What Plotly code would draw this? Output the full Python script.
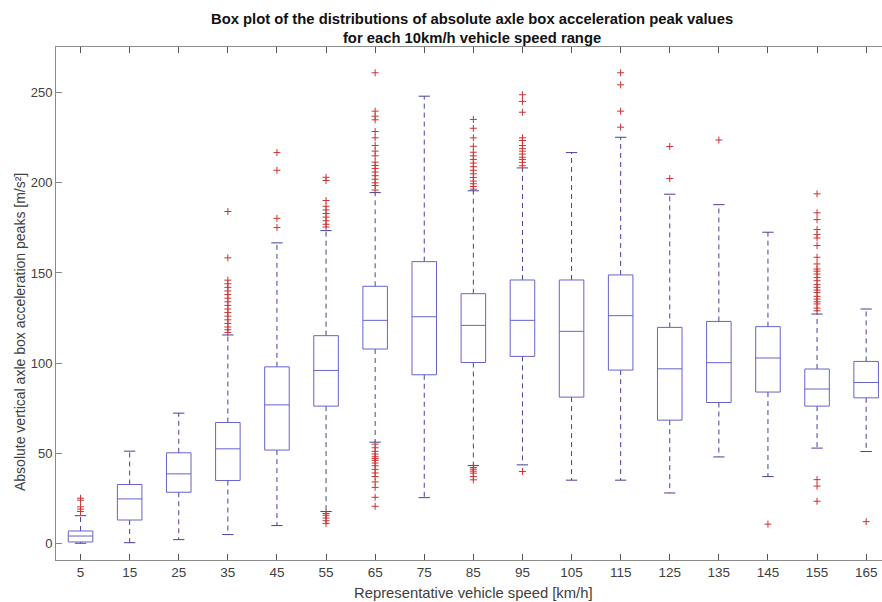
import plotly.graph_objects as go

# ---- data ----
speeds = [5, 15, 25, 35, 45, 55, 65, 75, 85, 95, 105, 115, 125, 135, 145, 155, 165]
q1 = [0.7, 12.9, 28.3, 34.8, 51.7, 76.1, 107.8, 93.5, 100.3, 103.7, 81.1, 96.1, 68.3, 78.1, 83.9, 76.1, 80.7]
medians = [4.0, 24.6, 38.5, 52.4, 76.8, 95.9, 123.7, 125.7, 120.9, 123.7, 117.6, 126.3, 96.8, 100.2, 102.8, 85.6, 89.2]
q3 = [6.8, 32.6, 50.2, 67.0, 97.9, 115.2, 142.6, 156.3, 138.5, 146.1, 146.1, 148.9, 119.8, 123.1, 120.2, 96.7, 100.9]
whisker_low = [0.0, 0.3, 2.0, 4.8, 9.8, 17.6, 56.1, 25.3, 43.1, 43.5, 35.0, 35.0, 27.9, 47.9, 37.0, 52.8, 50.9]
whisker_high = [15.3, 51.1, 72.2, 115.6, 166.7, 173.5, 194.6, 248.1, 195.6, 208.3, 216.8, 225.3, 193.7, 187.9, 172.6, 127.2, 130.0]
outliers = [
    [17.6, 18.9, 20.2, 23.9, 25.0],
    [],
    [],
    [117, 118.5, 120, 122, 124, 126, 128, 130, 132, 134, 136, 138, 140, 142, 144, 146, 158.4, 184.1],
    [175.2, 180.3, 207.0, 216.8],
    [11.0, 12.5, 14.0, 15.5, 16.5, 175.5, 177, 179, 181, 183, 185, 187, 190.2, 201.3, 203.1],
    [20.5, 25.5, 31, 34, 37, 39, 41, 43, 44.5, 46, 47, 48, 49.5, 51, 53, 55,
     196, 198.5, 200, 202, 204, 206, 208, 209.6, 211.5, 215, 217.6, 220.7, 225, 228.5, 235, 237, 239.8, 261.1],
    [],
    [35.2, 37, 38.9, 40, 41.1, 42,
     196.5, 198, 199.5, 201, 203, 205, 207, 209, 211, 213, 215, 217, 220.3, 225, 230.3, 235.2],
    [39.8, 209.5, 211.4, 213, 214.2, 216, 217.6, 219, 220.7, 223.5, 225, 239.2, 245.2, 248.9],
    [],
    [230.9, 239.8, 254.4, 261.1],
    [202.4, 220.2],
    [223.8],
    [10.6],
    [23.3, 31.7, 35.3,
     129, 130.5, 132.8, 134, 135.5, 137, 139.2, 140.5, 142, 143.5, 145.7, 147.5, 149.4, 151, 152.2,
     155, 158.7, 165.2, 169.4, 171.3, 174.1, 179.6, 183.4, 193.9],
    [12.0],
]
y_ticks = [0, 50, 100, 150, 200, 250]

title_text = ("<b>Box plot of the distributions of absolute axle box acceleration peak values</b><br>"
              "<b>for each 10km/h vehicle speed range</b>")
x_title = "Representative vehicle speed [km/h]"
y_title = "Absolute vertical axle box acceleration peaks [m/s²]"

# ---- styling ----
BOX_HALF = 2.5
CAP_HALF = 1.15
box_color = "#6464cc"
whisk_color = "#43439a"
out_color = "#cc3333"
axis_color = "#8a8a8a"
font_family = "Liberation Sans, Arial, sans-serif"

# ---- build geometry from the data ----
bx, by, mx, my, wx, wy, cx, cy, ox, oy = [], [], [], [], [], [], [], [], [], []
for s, a, m, b, lo, hi, outs in zip(speeds, q1, medians, q3, whisker_low, whisker_high, outliers):
    bx += [s - BOX_HALF, s + BOX_HALF, s + BOX_HALF, s - BOX_HALF, s - BOX_HALF, None]
    by += [a, a, b, b, a, None]
    mx += [s - BOX_HALF, s + BOX_HALF, None]
    my += [m, m, None]
    wx += [s, s, None, s, s, None]
    wy += [b, hi, None, a, lo, None]
    cx += [s - CAP_HALF, s + CAP_HALF, None, s - CAP_HALF, s + CAP_HALF, None]
    cy += [hi, hi, None, lo, lo, None]
    for v in outs:
        ox.append(s)
        oy.append(v)

fig = go.Figure()
fig.add_trace(go.Scatter(x=wx, y=wy, mode="lines",
                         line=dict(color=whisk_color, width=1, dash="5px,4px"),
                         hoverinfo="skip", showlegend=False))
fig.add_trace(go.Scatter(x=cx, y=cy, mode="lines",
                         line=dict(color=whisk_color, width=1),
                         hoverinfo="skip", showlegend=False))
fig.add_trace(go.Scatter(x=bx, y=by, mode="lines",
                         line=dict(color=box_color, width=1),
                         hoverinfo="skip", showlegend=False))
fig.add_trace(go.Scatter(x=mx, y=my, mode="lines",
                         line=dict(color=box_color, width=1),
                         hoverinfo="skip", showlegend=False))
fig.add_trace(go.Scatter(x=ox, y=oy, mode="markers",
                         marker=dict(symbol="cross-thin-open", size=5, color=out_color,
                                     line=dict(color=out_color, width=1)),
                         showlegend=False))

L, R, T, B = 56, 0, 47, 42
W, H = 882, 602
plot_w = W - L - R
px_per_unit = 4.91
x_max = plot_w / px_per_unit

fig.update_layout(
    width=W, height=H,
    margin=dict(l=L, r=R, t=T, b=B, pad=0),
    paper_bgcolor="white", plot_bgcolor="white",
    font=dict(family=font_family, size=13, color="#404040"),
    showlegend=False,
    xaxis=dict(range=[0, x_max], tickvals=speeds, ticktext=[str(s) for s in speeds],
               showgrid=False, zeroline=False, showline=True, linecolor=axis_color, linewidth=1,
               mirror="ticks", ticks="inside", ticklen=6, tickcolor="#555555", tickwidth=1,
               tickfont=dict(size=13.5, color="#404040")),
    yaxis=dict(range=[-9.3, 275.4], tickvals=y_ticks,
               showgrid=False, zeroline=False, showline=True, linecolor=axis_color, linewidth=1,
               ticks="inside", ticklen=6, tickcolor="#888888", tickwidth=1,
               tickfont=dict(size=13, color="#404040")),
)

def px_x(p):
    return (p - L) / plot_w

fig.add_annotation(text=title_text, xref="paper", yref="paper",
                   x=px_x(472), y=1 + (T - 28) / (H - T - B), xanchor="center", yanchor="middle",
                   showarrow=False, font=dict(size=14.8, color="#111111", family=font_family))
fig.add_annotation(text=x_title, xref="paper", yref="paper",
                   x=px_x(473), y=-(593 - (H - B)) / (H - T - B), xanchor="center", yanchor="middle",
                   showarrow=False, font=dict(size=14.8, color="#404040", family=font_family))
fig.add_annotation(text=y_title, xref="paper", yref="paper",
                   x=px_x(20), y=(H - B - 332) / (H - T - B), xanchor="center", yanchor="middle",
                   textangle=-90, showarrow=False,
                   font=dict(size=14, color="#404040", family=font_family))

fig.write_html("out.html")
